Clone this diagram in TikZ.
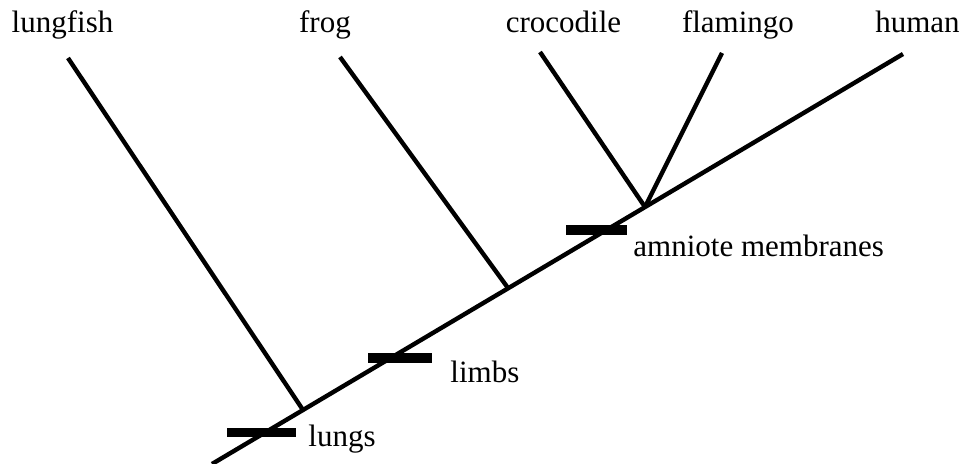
\documentclass[tikz,border=0pt]{standalone}
\usepackage{fontspec}
\setmainfont{Liberation Serif}
\tikzset{every picture/.style={x=0.5pt,y=-0.5pt}}
\tikzset{edge/.style={line width=2.2pt}}
\tikzset{trait/.style={fill=black,inner sep=0pt,minimum height=4.8pt}}
\tikzset{taxon/.style={anchor=base,font=\fontsize{15.5}{18}\selectfont}}
\tikzset{annot/.style={anchor=base west,font=\fontsize{15.5}{18}\selectfont}}

\begin{document}
\begin{tikzpicture}
\useasboundingbox (0,0) rectangle (966,464);
\coordinate (root) at (212,464);
\coordinate (n1) at (303,410);
\coordinate (n2) at (508,288);
\coordinate (n3) at (645,207);
\coordinate (t1) at (68,58);
\coordinate (t2) at (340,57);
\coordinate (t3) at (540,52);
\coordinate (t4) at (722,53);
\coordinate (t5) at (903,54);

\draw [edge] (root) -- (t5);
\draw [edge] (n1) -- (t1);
\draw [edge] (n2) -- (t2);
\draw [edge] (n3) -- (t3);
\draw [edge] (n3) -- (t4);

\node [trait,minimum width=34.5pt] (b1) at (261.5,432.5) {};
\node [trait,minimum width=32pt] (b2) at (400,358) {};
\node [trait,minimum width=30.5pt] (b3) at (596.5,230) {};

\node [taxon] (l1) at (62.5,33) {lungfish};
\node [taxon] (l2) at (325,33) {frog};
\node [taxon] (l3) at (563.5,33) {crocodile};
\node [taxon] (l4) at (738,33) {flamingo};
\node [taxon] (l5) at (917.5,33) {human};

\node [annot,inner sep=0pt] (a1) at (308,447) {lungs};
\node [annot,inner sep=0pt] (a2) at (450,383) {limbs};
\node [annot,inner sep=0pt] (a3) at (633,257) {amniote membranes};
\end{tikzpicture}
\end{document}
